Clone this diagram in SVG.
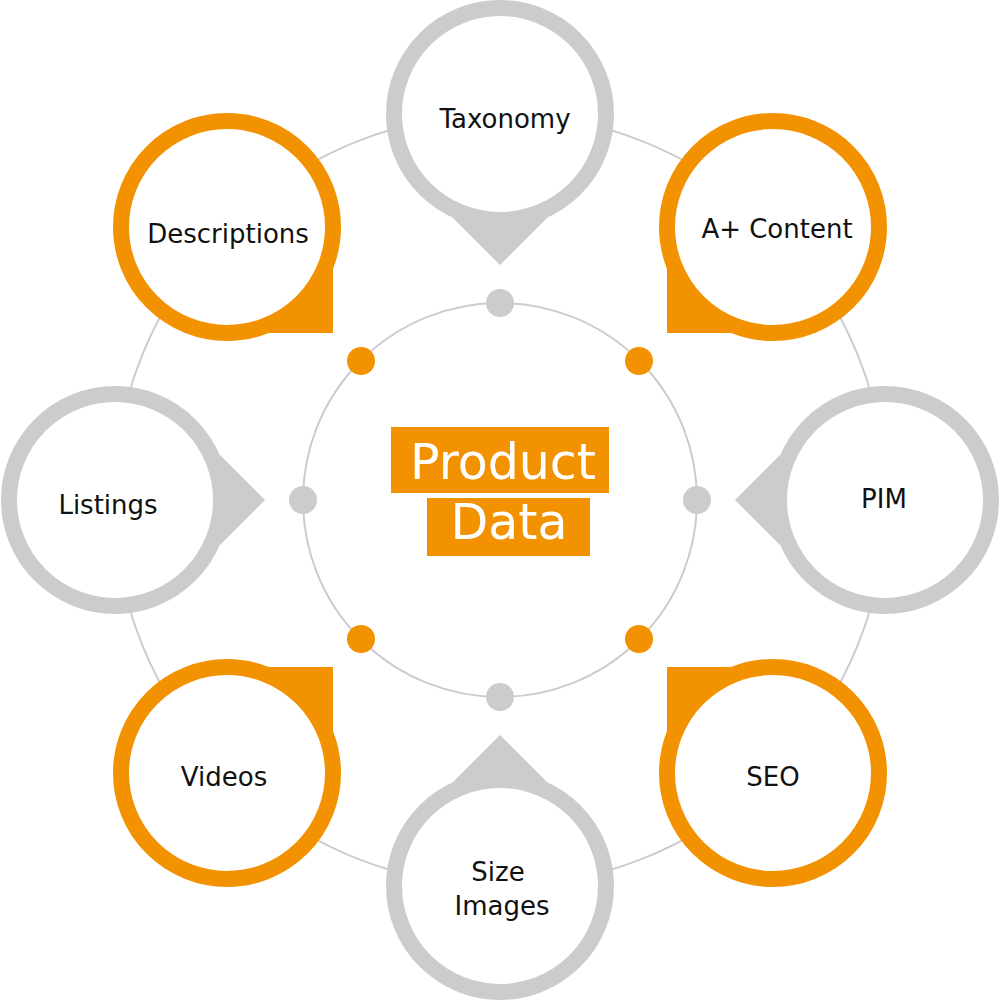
<svg xmlns="http://www.w3.org/2000/svg" width="1000" height="1000" viewBox="0 0 1000 1000">
<style>
.line{fill:none;stroke:#cccccc;stroke-width:2}
.gdot{fill:#cccccc}
.odot{fill:#f39200}
.gring{fill:#ffffff;stroke:#cccccc;stroke-width:16}
.oring{fill:#ffffff;stroke:#f39200;stroke-width:16}
.gtip{fill:#cccccc}
.otip{fill:#f39200}
.lbl{font-family:"DejaVu Sans","Liberation Sans",sans-serif;font-size:26px;fill:#111111;text-anchor:middle}
.big{font-family:"DejaVu Sans","Liberation Sans",sans-serif;font-size:49px;fill:#ffffff;text-anchor:middle}
</style>
<rect width="1000" height="1000" fill="#ffffff"/>
<g id="connectors">
<circle class="line" cx="500" cy="500" r="386"/>
<circle class="line" cx="500" cy="500" r="197"/>
<circle class="gdot" cx="500" cy="303" r="14"/>
<circle class="gdot" cx="500" cy="697" r="14"/>
<circle class="gdot" cx="303" cy="500" r="14"/>
<circle class="gdot" cx="697" cy="500" r="14"/>
<circle class="odot" cx="361" cy="361" r="14"/>
<circle class="odot" cx="639" cy="361" r="14"/>
<circle class="odot" cx="361" cy="639" r="14"/>
<circle class="odot" cx="639" cy="639" r="14"/>
</g>
<g id="center">
<rect x="391" y="427" width="218" height="66" fill="#f39200"/>
<rect x="427" y="498" width="163" height="58" fill="#f39200"/>
<text class="big" x="503" y="479">Product</text>
<text class="big" x="509" y="539">Data</text>
</g>
<g id="taxonomy">
<polygon class="gtip" points="500,265 425,190 575,190"/>
<circle class="gring" cx="500" cy="114" r="106"/>
<text class="lbl" x="505" y="128">Taxonomy</text>
</g>
<g id="a-content">
<rect class="otip" x="667" y="227" width="106" height="106"/>
<circle class="oring" cx="773" cy="227" r="106"/>
<text class="lbl" x="777" y="238">A+ Content</text>
</g>
<g id="pim">
<polygon class="gtip" points="735,500 810,425 810,575"/>
<circle class="gring" cx="885" cy="500" r="106"/>
<text class="lbl" x="884" y="508">PIM</text>
</g>
<g id="seo">
<rect class="otip" x="667" y="667" width="106" height="106"/>
<circle class="oring" cx="773" cy="773" r="106"/>
<text class="lbl" x="773" y="786">SEO</text>
</g>
<g id="size-images">
<polygon class="gtip" points="500,735 425,810 575,810"/>
<circle class="gring" cx="500" cy="886" r="106"/>
<text class="lbl" x="498" y="881">Size</text>
<text class="lbl" x="502" y="915">Images</text>
</g>
<g id="videos">
<rect class="otip" x="227" y="667" width="106" height="106"/>
<circle class="oring" cx="227" cy="773" r="106"/>
<text class="lbl" x="224" y="786">Videos</text>
</g>
<g id="listings">
<polygon class="gtip" points="265,500 190,425 190,575"/>
<circle class="gring" cx="115" cy="500" r="106"/>
<text class="lbl" x="108" y="514">Listings</text>
</g>
<g id="descriptions">
<rect class="otip" x="227" y="227" width="106" height="106"/>
<circle class="oring" cx="227" cy="227" r="106"/>
<text class="lbl" x="228" y="243">Descriptions</text>
</g>
</svg>
